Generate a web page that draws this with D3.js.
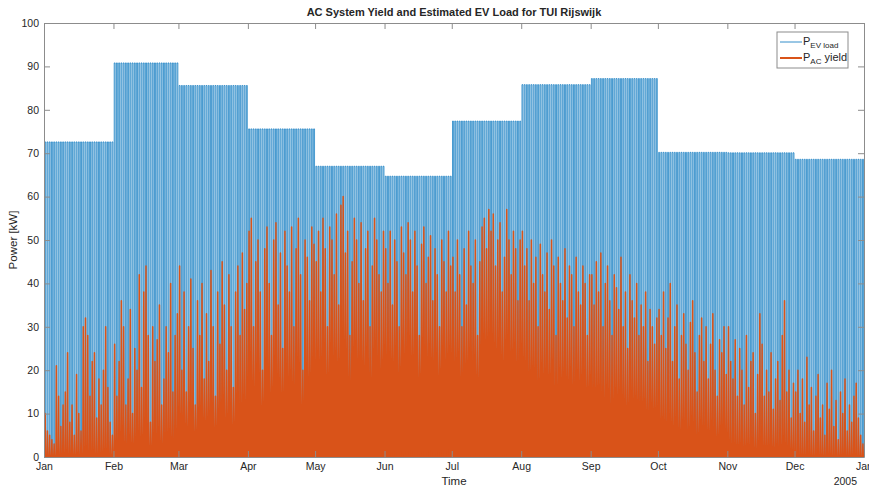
<!DOCTYPE html>
<html>
<head>
<meta charset="utf-8">
<script src="https://cdn.jsdelivr.net/npm/d3@7"></script>
<style>
    body { margin: 0; background: #fff; }
    svg text { font-family: "Liberation Sans", Arial, sans-serif; fill: #262626; }
</style>
</head>
<body>
<div id="chartContainer"></div>
<script>
// Monthly EV load level [kW] and the hours of the day it is on
const months = ['Jan', 'Feb', 'Mar', 'Apr', 'May', 'Jun', 'Jul', 'Aug', 'Sep', 'Oct', 'Nov', 'Dec'];
const evPeak = [72.6, 90.8, 85.6, 75.6, 67.0, 64.7, 77.4, 85.8, 87.2, 70.2, 70.1, 68.6];
const evOn = [8, 18];

// Sunrise / sunset hours per month for the PV yield
const sunrise = [8.3, 7.6, 6.6, 5.6, 4.8, 4.4, 4.6, 5.3, 6.3, 7.2, 7.8, 8.4];
const sunset = [16.7, 17.6, 18.7, 19.8, 20.7, 21.2, 21.1, 20.3, 19.2, 18.0, 17.0, 16.5];

// Daily peak AC yield [kW], one array per month of 2004
const acJan = [10, 6, 5, 4, 3, 21, 14, 7, 12, 15, 24, 8, 12, 5, 19, 10, 6, 30, 32, 28, 14, 22, 24, 9, 18, 12, 20, 30, 16, 8, 5];
const acFeb = [26, 14, 22, 36, 30, 12, 18, 34, 10, 25, 20, 42, 16, 38, 44, 28, 8, 30, 22, 27, 35, 12, 18, 30, 24, 40, 15, 28, 33];
const acMar = [44, 20, 38, 15, 30, 41, 25, 12, 36, 28, 40, 18, 33, 22, 43, 30, 14, 38, 26, 45, 35, 20, 42, 30, 16, 38, 44, 28, 47, 34, 40];
const acApr = [52, 55, 30, 45, 50, 38, 20, 48, 53, 40, 28, 50, 54, 35, 47, 25, 52, 44, 38, 53, 30, 48, 55, 42, 20, 50, 46, 36, 53, 49];
const acMay = [45, 52, 38, 55, 48, 30, 53, 50, 42, 56, 35, 58, 60, 47, 52, 28, 45, 55, 50, 40, 54, 36, 48, 52, 30, 44, 55, 50, 42, 38, 52];
const acJun = [48, 40, 52, 35, 50, 45, 30, 53, 47, 42, 54, 50, 38, 52, 44, 28, 49, 53, 40, 46, 51, 36, 48, 42, 30, 50, 45, 38, 52, 44];
const acJul = [46, 38, 50, 42, 30, 48, 35, 52, 44, 40, 50, 28, 45, 53, 55, 48, 57, 52, 56, 44, 50, 54, 38, 46, 57, 50, 42, 52, 48, 36, 50];
const acAug = [52, 44, 48, 36, 50, 40, 46, 30, 49, 42, 38, 47, 34, 50, 44, 28, 46, 40, 36, 48, 32, 44, 42, 30, 46, 38, 35, 44, 40, 28, 42];
const acSep = [42, 35, 45, 38, 47, 30, 40, 44, 36, 28, 42, 39, 34, 46, 30, 38, 25, 42, 36, 32, 40, 28, 35, 30, 38, 22, 34, 30, 26, 32];
const acOct = [34, 28, 38, 25, 32, 40, 22, 30, 35, 18, 28, 33, 26, 20, 31, 36, 24, 15, 28, 32, 22, 30, 18, 26, 33, 20, 14, 27, 24, 30, 19];
const acNov = [30, 22, 18, 27, 14, 25, 20, 12, 28, 16, 22, 24, 10, 19, 33, 26, 14, 20, 15, 24, 11, 18, 22, 13, 28, 36, 15, 20, 9, 17];
const acDec = [15, 20, 10, 18, 8, 23, 12, 16, 6, 14, 19, 9, 12, 5, 17, 11, 20, 7, 13, 4, 15, 10, 18, 6, 12, 8, 14, 17, 9, 5, 3];
const acDaily = [acJan, acFeb, acMar, acApr, acMay, acJun, acJul, acAug, acSep, acOct, acNov, acDec];

const yTicks = [0, 10, 20, 30, 40, 50, 60, 70, 80, 90, 100];

const width = 869, height = 489;
const margin = { top: 23, right: 5, bottom: 32, left: 44 };
const blue = '#0072BD', orange = '#D95319';

const hour = (y, m, d, h) => new Date(Date.UTC(y, m, d) + h * 3600000);

// step series for the EV load, one spike per day for the yield
const evData = [];
const acData = [];
acDaily.forEach((days, m) => {
    days.forEach((peak, i) => {
        const d = i + 1;
        evData.push({ t: hour(2004, m, d, evOn[0]), v: 0 });
        evData.push({ t: hour(2004, m, d, evOn[0]), v: evPeak[m] });
        evData.push({ t: hour(2004, m, d, evOn[1]), v: evPeak[m] });
        evData.push({ t: hour(2004, m, d, evOn[1]), v: 0 });
        acData.push({ t: hour(2004, m, d, sunrise[m]), v: 0 });
        acData.push({ t: hour(2004, m, d, (sunrise[m] + sunset[m]) / 2), v: peak });
        acData.push({ t: hour(2004, m, d, sunset[m]), v: 0 });
    });
});

const svg = d3.select('#chartContainer')
    .append('svg')
    .attr('width', width)
    .attr('height', height);

const x = d3.scaleUtc()
    .domain([new Date(Date.UTC(2004, 0, 1)), new Date(Date.UTC(2005, 0, 1))])
    .range([margin.left, width - margin.right]);

const y = d3.scaleLinear()
    .domain([0, 100])
    .range([height - margin.bottom, margin.top]);

svg.append('clipPath').attr('id', 'plotClip')
    .append('rect')
    .attr('x', margin.left).attr('y', margin.top)
    .attr('width', width - margin.left - margin.right)
    .attr('height', height - margin.top - margin.bottom);

const line = d3.line().x(d => x(d.t)).y(d => y(d.v));
const area = d3.area().x(d => x(d.t)).y0(y(0)).y1(d => y(d.v));

const plot = svg.append('g').attr('clip-path', 'url(#plotClip)');

plot.append('path')
    .datum(evData)
    .attr('fill', 'none')
    .attr('stroke', blue)
    .attr('stroke-width', 0.7)
    .attr('d', line);

plot.append('path')
    .datum(acData)
    .attr('fill', orange)
    .attr('stroke', orange)
    .attr('stroke-width', 1.5)
    .attr('stroke-linejoin', 'round')
    .attr('d', area);

// axes box with inward ticks, MATLAB style
const monthTicks = d3.range(13).map(m => new Date(Date.UTC(2004, m, 1)));
const axisColor = '#8c8c8c';
const tickLen = 6;

const xAxisB = d3.axisBottom(x).tickValues(monthTicks).tickFormat(d3.utcFormat('%b')).tickSizeInner(-tickLen).tickSizeOuter(0).tickPadding(6);
const xAxisT = d3.axisTop(x).tickValues(monthTicks).tickFormat('').tickSizeInner(-tickLen).tickSizeOuter(0);
const yAxisL = d3.axisLeft(y).tickValues(yTicks).tickSizeInner(-tickLen).tickSizeOuter(0).tickPadding(5);
const yAxisR = d3.axisRight(y).tickValues(yTicks).tickFormat('').tickSizeInner(-tickLen).tickSizeOuter(0);

const axes = [
    [xAxisB, `translate(0,${height - margin.bottom})`],
    [xAxisT, `translate(0,${margin.top})`],
    [yAxisL, `translate(${margin.left},0)`],
    [yAxisR, `translate(${width - margin.right},0)`]
];
axes.forEach(([ax, tr]) => {
    const g = svg.append('g').attr('transform', tr).call(ax);
    g.selectAll('line').attr('stroke', axisColor);
    g.select('.domain').attr('stroke', axisColor);
    g.selectAll('text').attr('font-size', 10.5).attr('fill', '#262626')
        .attr('font-family', '"Liberation Sans", Arial, sans-serif');
});

svg.append('text')
    .attr('x', 857)
    .attr('y', 485)
    .attr('text-anchor', 'end')
    .attr('font-size', 10.5)
    .text('2005');

svg.append('text')
    .attr('x', (margin.left + width - margin.right) / 2)
    .attr('y', 485)
    .attr('text-anchor', 'middle')
    .attr('font-size', 11.5)
    .text('Time');

svg.append('text')
    .attr('transform', `translate(17,${(margin.top + height - margin.bottom) / 2}) rotate(-90)`)
    .attr('text-anchor', 'middle')
    .attr('font-size', 11.5)
    .text('Power [kW]');

svg.append('text')
    .attr('x', (margin.left + width - margin.right) / 2)
    .attr('y', 16)
    .attr('text-anchor', 'middle')
    .attr('font-size', 11)
    .attr('font-weight', 'bold')
    .attr('fill', '#000')
    .text('AC System Yield and Estimated EV Load for TUI Rijswijk');

// legend
const legend = svg.append('g').attr('transform', 'translate(777,32)');
legend.append('rect')
    .attr('width', 71).attr('height', 36)
    .attr('fill', '#fff').attr('stroke', axisColor);

const entries = [
    { color: blue, w: 0.8, sub: 'EV load', tail: '' },
    { color: orange, w: 2, sub: 'AC', tail: ' yield' }
];
entries.forEach((e, i) => {
    const cy = 10 + i * 16;
    legend.append('line')
        .attr('x1', 3).attr('x2', 25).attr('y1', cy).attr('y2', cy)
        .attr('stroke', e.color).attr('stroke-width', e.w);
    const t = legend.append('text').attr('x', 26).attr('y', cy + 3).attr('font-size', 11);
    t.append('tspan').text('P');
    t.append('tspan').attr('font-size', 8).attr('dy', 3).text(e.sub);
    if (e.tail) t.append('tspan').attr('dy', -3).text(e.tail);
});
</script>
</body>
</html>
